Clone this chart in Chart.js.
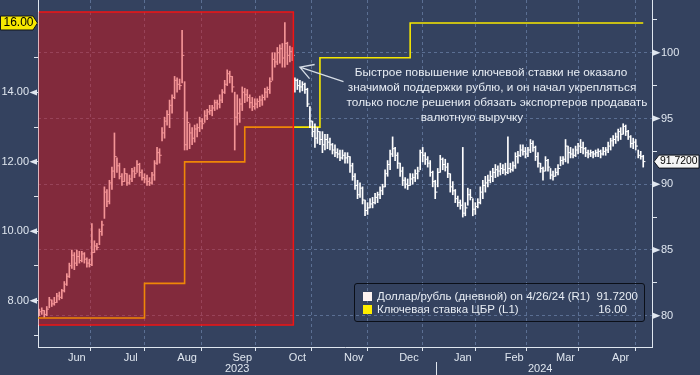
<!DOCTYPE html>
<html lang="ru">
<head>
    <meta charset="UTF-8">
    <title>Доллар/рубль и ключевая ставка ЦБР</title>
    <script src="https://cdn.jsdelivr.net/npm/chart.js@4.4.1/dist/chart.umd.min.js"></script>
    <style>
        * {
            margin: 0;
            padding: 0;
            box-sizing: border-box;
        }

        body {
            background-color: #34425f;
            font-family: 'Liberation Sans', Arial, sans-serif;
        }

        .wrap {
            position: relative;
            width: 700px;
            height: 375px;
        }

        .note {
            position: absolute;
            width: 400px;
            text-align: center;
            color: #e8edf4;
            font-size: 11.8px;
            line-height: 15px;
            white-space: nowrap;
        }

        .legend {
            position: absolute;
            left: 354px;
            top: 283px;
            width: 291px;
            height: 39px;
            border: 1px solid #0b0f18;
            border-radius: 3px;
            color: #e8edf4;
            font-size: 11.5px;
        }

        .legend .sw {
            position: absolute;
            left: 8px;
            width: 9px;
            height: 9px;
        }

        .legend .name {
            position: absolute;
            left: 22px;
            white-space: nowrap;
        }

        .legend .val {
            position: absolute;
            white-space: nowrap;
        }
    </style>
</head>
<body>

<div class="wrap">
    <canvas id="fxChart" width="700" height="375"></canvas>

    <div class="note" style="left:291px; top:65px;">Быстрое повышение ключевой ставки не оказало</div>
    <div class="note" style="left:292px; top:80px;">значимой поддержки рублю, и он начал укрепляться</div>
    <div class="note" style="left:297px; top:95px;">только после решения обязать экспортеров продавать</div>
    <div class="note" style="left:272px; top:110px;">валютную выручку</div>

    <div class="legend">
        <span class="sw" style="top:8px; background:#fdf3f0;"></span>
        <span class="name" style="top:6px;">Доллар/рубль (дневной) on 4/26/24 (R1)</span>
        <span class="val" id="fxLast" style="top:6px; right:6px;"></span>
        <span class="sw" style="top:21px; background:#ffee00;"></span>
        <span class="name" style="top:19px;">Ключевая ставка ЦБР (L1)</span>
        <span class="val" id="rateLast" style="top:19px; right:17px;"></span>
    </div>
</div>

<script>
    // trading days, 25 May 2023 .. 26 Apr 2024 (index = day number)
    const usdLow = [
        80.0, 80.1, 79.9, 80.0, 80.6, 80.7, 80.8, 81.0, 81.2, 81.3,
        81.8, 82.3, 82.9, 83.6, 83.5, 83.8, 84.0, 84.1, 84.0, 83.7,
        83.7, 83.8, 84.8, 85.0, 85.4, 86.1, 87.4, 88.3, 88.5, 89.6,
        90.5, 90.9, 90.4, 89.9, 90.2, 89.9, 90.0, 90.2, 90.5, 90.9,
        90.6, 90.3, 90.1, 89.9, 89.9, 90.0, 90.3, 91.5, 91.6, 93.3,
        93.5, 94.5, 94.3, 95.4, 96.5, 97.0, 97.2, 97.7, 92.6, 92.6,
        92.7, 93.0, 93.2, 93.6, 94.0, 94.2, 94.7, 94.9, 95.3, 95.2,
        95.6, 95.7, 95.8, 96.2, 96.9, 97.5, 97.7, 97.0, 92.6, 94.5,
        94.7, 95.6, 96.2, 96.3, 95.8, 95.6, 95.7, 95.8, 95.9, 96.0,
        96.4, 96.6, 96.9, 97.9, 98.9, 99.1, 99.2, 98.9, 98.9, 99.1,
        99.3, 99.4, 97.0, 97.2, 97.0, 97.1, 96.9, 95.9, 94.3, 93.6,
        92.8, 93.1, 93.0, 92.4, 92.6, 92.7, 92.6, 92.3, 92.1, 92.0,
        91.8, 91.9, 91.6, 91.6, 90.9, 90.3, 89.6, 88.9, 89.0, 88.5,
        87.6, 87.7, 88.2, 88.2, 88.5, 88.6, 88.9, 89.2, 89.8, 90.6,
        91.1, 92.1, 91.8, 91.2, 90.6, 89.9, 89.7, 89.6, 89.9, 90.0,
        90.2, 90.4, 91.1, 91.7, 91.5, 91.3, 90.6, 89.8, 88.9, 89.8,
        90.9, 91.1, 91.0, 90.5, 89.4, 89.2, 88.6, 88.3, 88.1, 87.5,
        87.6, 88.4, 88.8, 87.6, 87.7, 88.2, 88.5, 88.9, 89.4, 89.8,
        90.1, 90.2, 90.5, 90.6, 90.7, 90.8, 90.7, 90.8, 90.9, 91.0,
        91.2, 91.6, 92.1, 92.2, 92.0, 92.1, 92.4, 92.5, 91.8, 91.3,
        90.9, 90.3, 91.0, 91.0, 90.4, 90.3, 90.6, 90.7, 91.4, 91.5,
        91.7, 91.6, 92.0, 92.0, 92.1, 92.3, 92.4, 92.3, 92.1, 92.0,
        92.1, 92.0, 92.1, 92.1, 92.0, 92.2, 92.2, 92.4, 92.6, 92.9,
        93.1, 93.3, 93.4, 93.8, 93.7, 93.4, 92.8, 92.7, 92.6, 92.0,
        91.9, 91.3
    ];
    const usdHigh = [
        80.5, 80.6, 80.4, 80.7, 81.4, 81.2, 81.4, 81.7, 81.8, 82.0,
        82.6, 83.2, 84.0, 85.0, 84.8, 85.0, 84.9, 84.9, 84.8, 84.4,
        84.3, 87.0, 85.7, 85.5, 86.6, 87.2, 89.8, 89.6, 90.3, 91.3,
        93.9, 92.0, 91.6, 90.8, 91.2, 90.8, 90.7, 91.2, 91.3, 91.8,
        91.6, 91.1, 90.8, 90.7, 90.5, 90.9, 91.8, 92.8, 92.7, 94.3,
        95.1, 95.6, 96.4, 96.8, 98.2, 98.1, 98.0, 101.7, 97.8, 95.5,
        94.6, 94.3, 94.5, 94.6, 95.1, 95.0, 95.6, 95.7, 96.0, 96.0,
        96.4, 96.4, 96.8, 97.2, 97.9, 98.7, 98.6, 98.2, 97.0, 96.8,
        96.5, 97.4, 97.3, 97.2, 96.8, 96.6, 96.5, 96.5, 96.7, 96.8,
        97.3, 97.4, 98.1, 100.0, 100.0, 100.4, 100.6, 100.7, 102.3, 100.8,
        100.5, 100.4, 98.1, 98.0, 97.9, 97.8, 97.7, 97.3, 95.9, 94.8,
        94.6, 94.3, 94.0, 94.0, 93.8, 93.8, 93.5, 93.1, 93.0, 92.7,
        92.6, 92.6, 92.4, 92.4, 92.1, 91.6, 90.8, 90.3, 90.1, 89.8,
        88.8, 88.6, 88.9, 89.0, 89.3, 89.4, 89.8, 90.0, 91.1, 91.8,
        92.6, 93.6, 92.8, 92.4, 91.6, 91.3, 90.5, 90.4, 90.8, 90.8,
        91.1, 91.3, 92.6, 92.8, 92.4, 92.1, 91.8, 91.0, 90.3, 91.2,
        92.2, 92.0, 91.9, 91.6, 90.8, 90.2, 89.6, 89.1, 88.8, 92.8,
        88.6, 89.7, 89.6, 88.9, 88.6, 88.9, 89.8, 90.3, 90.6, 90.7,
        91.0, 91.2, 91.5, 91.4, 91.6, 91.5, 91.6, 93.6, 91.6, 91.7,
        92.4, 92.5, 93.0, 93.0, 92.8, 92.8, 93.4, 93.3, 92.9, 92.4,
        91.6, 91.3, 92.1, 91.9, 91.2, 91.0, 91.2, 91.5, 92.1, 92.1,
        93.4, 92.9, 92.8, 92.7, 92.9, 93.1, 93.4, 93.2, 92.8, 92.6,
        92.6, 92.5, 92.6, 92.7, 92.6, 92.8, 92.8, 93.2, 93.5, 93.7,
        93.9, 94.2, 94.3, 94.6, 94.5, 94.1, 93.7, 93.5, 93.4, 92.6,
        92.5, 92.2
    ];
    const usdClose = [
        80.3, 80.4, 80.1, 80.5, 81.2, 80.9, 81.0, 81.5, 81.4, 81.9,
        82.4, 83.0, 83.8, 84.6, 84.0, 84.5, 84.2, 84.7, 84.3, 84.0,
        83.9, 84.8, 85.3, 85.2, 86.4, 86.9, 89.4, 88.7, 90.1, 91.0,
        92.1, 91.4, 90.6, 90.2, 90.8, 90.1, 90.4, 91.0, 90.8, 91.5,
        90.9, 90.5, 90.4, 90.2, 90.1, 90.7, 91.6, 92.4, 92.2, 93.9,
        94.8, 95.3, 96.0, 96.6, 97.9, 97.6, 97.5, 99.8, 93.0, 94.7,
        93.9, 93.5, 94.2, 94.3, 94.8, 94.6, 95.2, 95.5, 95.6, 95.8,
        96.2, 96.1, 96.4, 97.0, 97.6, 98.4, 98.2, 97.4, 95.1, 95.4,
        96.1, 97.0, 96.8, 96.6, 96.2, 95.9, 96.1, 96.3, 96.4, 96.6,
        97.0, 97.2, 97.8, 99.5, 99.3, 100.0, 100.3, 99.6, 100.7, 99.8,
        100.1, 99.8, 97.9, 97.5, 97.4, 97.6, 97.2, 96.1, 94.8, 94.0,
        93.5, 94.0, 93.4, 93.0, 93.4, 93.2, 93.0, 92.6, 92.4, 92.3,
        92.0, 92.2, 92.0, 92.1, 91.4, 90.6, 89.9, 89.2, 89.7, 88.8,
        88.0, 88.2, 88.5, 88.6, 89.0, 89.2, 89.5, 89.8, 90.8, 91.5,
        92.3, 92.7, 92.2, 91.6, 91.0, 90.3, 90.0, 89.9, 90.4, 90.5,
        90.8, 91.0, 92.4, 92.2, 91.9, 91.6, 90.9, 90.2, 89.4, 90.9,
        91.9, 91.5, 91.3, 90.8, 89.8, 89.5, 88.9, 88.6, 88.4, 87.8,
        88.2, 89.2, 89.0, 88.1, 88.3, 88.6, 89.4, 89.9, 90.1, 90.3,
        90.6, 90.9, 91.1, 91.0, 91.2, 91.1, 90.9, 91.2, 91.1, 91.4,
        92.1, 92.2, 92.6, 92.5, 92.3, 92.6, 93.1, 92.8, 92.1, 91.6,
        91.2, 91.0, 91.8, 91.3, 90.7, 90.6, 90.9, 91.2, 91.8, 91.9,
        92.9, 92.4, 92.3, 92.2, 92.6, 92.9, 92.8, 92.7, 92.4, 92.3,
        92.4, 92.3, 92.4, 92.5, 92.3, 92.5, 92.6, 92.9, 93.3, 93.4,
        93.6, 94.0, 93.8, 94.4, 94.0, 93.6, 93.1, 93.2, 92.9, 92.2,
        92.1, 91.72
    ];

    // key rate: day index where each level starts
    const rateDays = [-0.5, 42, 58, 82, 112, 148, 241];
    const rateValues = [7.5, 8.5, 12, 13, 15, 16, 16];

    // month boundaries (day index) and labels between them
    const monthBounds = [4.5, 25.5, 47.5, 70.5, 91.5, 114.5, 136.5, 158.5, 179.5, 199.5, 220.5, 243.5];
    const monthLabels = ['Jun', 'Jul', 'Aug', 'Sep', 'Oct', 'Nov', 'Dec', 'Jan', 'Feb', 'Mar', 'Apr'];
    const yearLabels = ['2023', '2024'];
    const yearBreak = 158.5;

    const rateTicks = [7, 8, 9, 10, 11, 12, 13, 14, 15, 16];
    const fxTicks = [80, 82.5, 85, 87.5, 90, 92.5, 95, 97.5, 100, 102.5];

    // highlighted period and arrow (x in day index, y on the rouble axis)
    const highlight = { from: -0.5, to: 101.4, top: 103.1, bottom: 79.3 };
    const arrow = { x0: 121.4, y0: 97.8, x1: 104.0, y1: 98.9 };

    const BG = '#34425f';
    const GRID = '#5b6f93';
    const AXIS = '#dfe6ef';
    const YELLOW = '#f6e800';
    const FONT = "'Liberation Sans', Arial, sans-serif";

    const lastFx = usdClose[usdClose.length - 1];
    const lastRate = rateValues[rateValues.length - 1];
    document.getElementById('fxLast').textContent = lastFx.toFixed(4);
    document.getElementById('rateLast').textContent = lastRate.toFixed(2);

    const monthMids = monthLabels.map((m, k) => (monthBounds[k] + monthBounds[k + 1]) / 2);
    const xTickValues = monthBounds.concat(monthMids).sort((a, b) => a - b);
    const isBound = v => monthBounds.includes(v);

    Chart.defaults.font.family = FONT;
    Chart.defaults.font.size = 11;
    Chart.defaults.color = AXIS;

    function drawTag(ctx, pts, fill, text, tx, ty, align, size) {
        ctx.save();
        ctx.beginPath();
        pts.forEach((p, k) => k ? ctx.lineTo(p[0], p[1]) : ctx.moveTo(p[0], p[1]));
        ctx.closePath();
        ctx.fillStyle = fill;
        ctx.fill();
        ctx.strokeStyle = '#10141c';
        ctx.lineWidth = 1;
        ctx.stroke();
        ctx.fillStyle = '#000';
        ctx.font = size + 'px ' + FONT;
        ctx.textAlign = align;
        ctx.textBaseline = 'middle';
        ctx.fillText(text, tx, ty);
        ctx.restore();
    }

    const extras = {
        id: 'extras',
        beforeDraw(chart) {
            const ctx = chart.ctx;
            ctx.save();
            ctx.fillStyle = BG;
            ctx.fillRect(0, 0, chart.width, chart.height);
            ctx.restore();
        },
        afterDatasetsDraw(chart) {
            const { ctx, scales: { x, y1 } } = chart;
            const l = x.getPixelForValue(highlight.from);
            const r = x.getPixelForValue(highlight.to);
            const t = y1.getPixelForValue(highlight.top);
            const b = y1.getPixelForValue(highlight.bottom);
            ctx.save();
            ctx.fillStyle = 'rgba(230, 11, 17, 0.44)';
            ctx.fillRect(l + 0.5, t, r - l - 0.5, b - t);
            ctx.strokeStyle = '#f01414';
            ctx.lineWidth = 1.5;
            ctx.beginPath();
            ctx.moveTo(l + 1, t);
            ctx.lineTo(r, t);
            ctx.lineTo(r, b);
            ctx.lineTo(l + 1, b);
            ctx.stroke();
            ctx.restore();
        },
        afterDraw(chart) {
            const { ctx, scales: { x, y, y1 }, chartArea } = chart;
            ctx.save();

            // axis pointers
            ctx.fillStyle = AXIS;
            rateTicks.filter(v => v % 2 === 0 && v !== lastRate).forEach(v => {
                const py = y.getPixelForValue(v);
                ctx.beginPath();
                ctx.moveTo(chartArea.left - 8.5, py);
                ctx.lineTo(chartArea.left - 1, py - 3);
                ctx.lineTo(chartArea.left - 1, py + 3);
                ctx.closePath();
                ctx.fill();
            });
            fxTicks.filter(v => v % 5 === 0).forEach(v => {
                const py = y1.getPixelForValue(v);
                ctx.beginPath();
                ctx.moveTo(chartArea.right + 1, py - 3);
                ctx.lineTo(chartArea.right + 8.5, py);
                ctx.lineTo(chartArea.right + 1, py + 3);
                ctx.closePath();
                ctx.fill();
            });

            // year labels and separator
            const sep = x.getPixelForValue(yearBreak);
            ctx.strokeStyle = AXIS;
            ctx.lineWidth = 1;
            ctx.beginPath();
            ctx.moveTo(Math.round(sep) + 0.5, chartArea.bottom + 15);
            ctx.lineTo(Math.round(sep) + 0.5, chart.height);
            ctx.stroke();
            ctx.font = '11px ' + FONT;
            ctx.textAlign = 'center';
            ctx.textBaseline = 'middle';
            ctx.fillText(yearLabels[0], (chartArea.left + sep) / 2, 369);
            ctx.fillText(yearLabels[1], (sep + chartArea.right) / 2 - 4, 369);

            // arrow to the highlighted period
            const ax0 = x.getPixelForValue(arrow.x0), ay0 = y1.getPixelForValue(arrow.y0);
            const ax1 = x.getPixelForValue(arrow.x1), ay1 = y1.getPixelForValue(arrow.y1);
            const ang = Math.atan2(ay0 - ay1, ax0 - ax1);
            ctx.strokeStyle = '#d6dde6';
            ctx.lineWidth = 1.3;
            ctx.beginPath();
            ctx.moveTo(ax0, ay0);
            ctx.lineTo(ax1, ay1);
            ctx.moveTo(ax1 + 15 * Math.cos(ang - 0.5), ay1 + 15 * Math.sin(ang - 0.5));
            ctx.lineTo(ax1, ay1);
            ctx.lineTo(ax1 + 15 * Math.cos(ang + 0.55), ay1 + 15 * Math.sin(ang + 0.55));
            ctx.stroke();
            ctx.restore();

            // last value tags
            const ry = y.getPixelForValue(lastRate);
            drawTag(ctx, [[0.5, ry - 7], [33, ry - 7], [37.5, ry], [33, ry + 7], [0.5, ry + 7]],
                YELLOW, lastRate.toFixed(2), 18.5, ry, 'center', 12);
            const fy = y1.getPixelForValue(lastFx);
            const rx = chartArea.right;
            drawTag(ctx, [[rx + 2, fy], [rx + 7, fy - 6.5], [chart.width - 1, fy - 6.5], [chart.width - 1, fy + 6.5], [rx + 7, fy + 6.5]],
                '#f4f4f4', lastFx.toFixed(4), rx + 8, fy, 'left', 10.4);
        }
    };

    const ctx = document.getElementById('fxChart').getContext('2d');
    new Chart(ctx, {
        type: 'bar',
        data: {
            datasets: [
                {
                    type: 'line',
                    label: 'Ключевая ставка ЦБР (L1)',
                    data: rateDays.map((d, k) => ({ x: d, y: rateValues[k] })),
                    yAxisID: 'y',
                    stepped: true,
                    borderColor: YELLOW,
                    borderWidth: 1.6,
                    pointRadius: 0,
                    order: 3
                },
                {
                    type: 'bar',
                    label: 'Доллар/рубль (дневной)',
                    data: usdLow.map((lo, i) => ({ x: i, y: [lo, usdHigh[i]] })),
                    yAxisID: 'y1',
                    backgroundColor: '#ffffff',
                    borderWidth: 0,
                    barThickness: 1,
                    order: 2
                },
                {
                    type: 'scatter',
                    label: 'close',
                    data: usdClose.map((c, i) => ({ x: i + 0.45, y: c })),
                    yAxisID: 'y1',
                    pointStyle: 'line',
                    pointRadius: 1.1,
                    borderColor: '#ffffff',
                    pointBorderColor: '#ffffff',
                    pointBorderWidth: 1,
                    order: 1
                }
            ]
        },
        options: {
            responsive: false,
            animation: false,
            events: [],
            layout: { padding: 0, autoPadding: false },
            plugins: {
                legend: { display: false },
                tooltip: { enabled: false }
            },
            scales: {
                x: {
                    type: 'linear',
                    min: -0.5,
                    max: 244.5,
                    offset: false,
                    afterBuildTicks: s => { s.ticks = xTickValues.map(v => ({ value: v })); },
                    afterFit: s => { s.height = 28; s.paddingLeft = 0; s.paddingRight = 0; },
                    ticks: {
                        autoSkip: false,
                        maxRotation: 0,
                        padding: 0,
                        callback: v => {
                            const k = monthMids.indexOf(v);
                            return k >= 0 ? monthLabels[k] : '';
                        }
                    },
                    grid: {
                        color: c => c.tick && isBound(c.tick.value) ? GRID : 'rgba(0,0,0,0)',
                        tickColor: c => c.tick && isBound(c.tick.value) ? AXIS : 'rgba(0,0,0,0)',
                        tickLength: 4,
                        lineWidth: 1
                    },
                    border: { color: AXIS, width: 1, dash: [3, 3] }
                },
                y: {
                    position: 'left',
                    min: 6.666,
                    max: 16.663,
                    afterBuildTicks: s => { s.ticks = rateTicks.map(v => ({ value: v })); },
                    afterFit: s => { s.width = 38; s.paddingTop = 0; s.paddingBottom = 0; },
                    ticks: {
                        padding: 5,
                        callback: v => (v % 2 === 0 && v !== lastRate) ? v.toFixed(2) : ''
                    },
                    grid: {
                        drawOnChartArea: false,
                        tickColor: AXIS,
                        tickLength: 4
                    },
                    border: { color: AXIS, width: 1 }
                },
                y1: {
                    position: 'right',
                    min: 77.62,
                    max: 104.01,
                    afterBuildTicks: s => { s.ticks = fxTicks.map(v => ({ value: v })); },
                    afterFit: s => { s.width = 48; s.paddingTop = 0; s.paddingBottom = 0; },
                    ticks: {
                        padding: 4,
                        callback: v => v % 5 === 0 ? String(v) : ''
                    },
                    grid: {
                        color: c => c.tick && c.tick.value % 5 === 0 ? GRID : 'rgba(0,0,0,0)',
                        tickColor: AXIS,
                        tickLength: 5
                    },
                    border: { color: AXIS, width: 1, dash: [3, 3] }
                }
            }
        },
        plugins: [extras]
    });
</script>
</body>
</html>
